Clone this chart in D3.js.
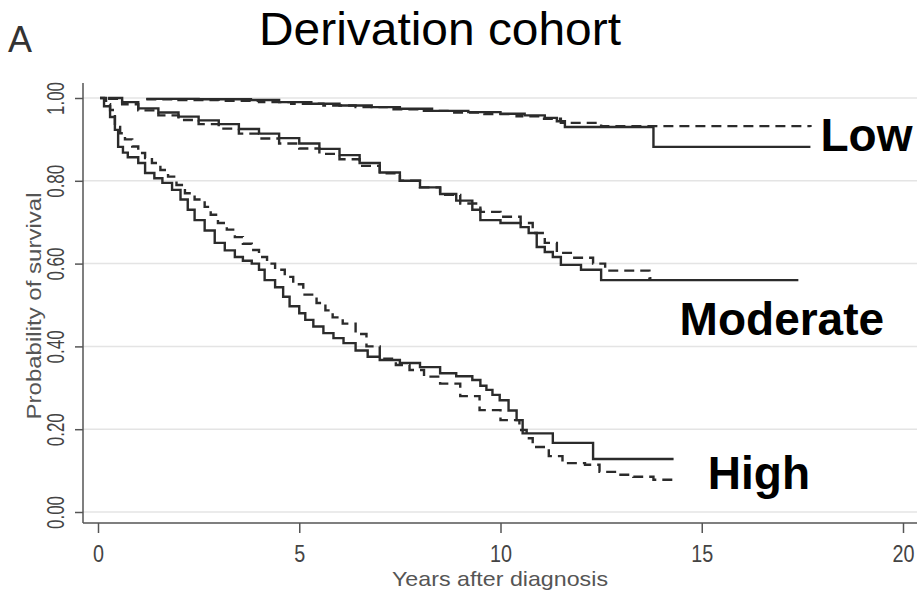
<!DOCTYPE html>
<html>
<head>
<meta charset="utf-8">
<script src="https://cdn.jsdelivr.net/npm/d3@7"></script>
<style>
  html, body { margin: 0; padding: 0; background: #fff; }
  svg { display: block; font-family: "Liberation Sans", Arial, Helvetica, sans-serif; }
</style>
</head>
<body>
<svg id="chart" width="921" height="591"></svg>
<script>
// Kaplan-Meier survival estimates by risk group (solid = observed, dashed = second estimate)
const lowSolidT  = [1.2, 2.5, 3.8, 4.5, 5.3, 6.0, 6.8, 7.5, 8.3, 9.2, 10.0, 10.6, 11.1, 11.4, 11.6, 13.8, 17.7];
const lowSolidS  = [0.998, 0.997, 0.995, 0.990, 0.986, 0.982, 0.978, 0.974, 0.969, 0.966, 0.962, 0.958, 0.952, 0.944, 0.930, 0.882, 0.882];
const lowDashT   = [1.2, 2.0, 3.0, 4.0, 4.8, 5.6, 6.4, 7.2, 8.0, 8.8, 9.6, 10.4, 11.0, 11.5, 12.5, 17.7];
const lowDashS   = [0.997, 0.995, 0.993, 0.990, 0.986, 0.982, 0.978, 0.973, 0.969, 0.965, 0.961, 0.956, 0.950, 0.940, 0.932, 0.930];

const modSolidT  = [0.25, 0.6, 1.0, 1.5, 2.0, 2.5, 3.0, 3.5, 4.0, 4.5, 5.0, 5.5, 6.0, 6.5, 7.0, 7.5, 8.0, 8.5, 8.9, 9.3, 9.5, 10.0, 10.5, 10.7, 10.9, 11.1, 11.3, 11.5, 12.0, 12.5, 17.4];
const modSolidS  = [1.0, 0.99, 0.975, 0.965, 0.955, 0.946, 0.937, 0.925, 0.914, 0.903, 0.89, 0.877, 0.862, 0.843, 0.82, 0.80, 0.784, 0.768, 0.752, 0.73, 0.705, 0.698, 0.688, 0.674, 0.64, 0.628, 0.616, 0.597, 0.585, 0.56, 0.56];
const modDashT   = [0.25, 0.6, 1.0, 1.5, 2.0, 2.5, 3.0, 3.5, 4.0, 4.5, 5.0, 5.5, 6.0, 6.5, 7.0, 7.5, 8.0, 8.5, 9.0, 9.5, 10.0, 10.5, 10.8, 11.1, 11.4, 11.8, 12.3, 12.6, 13.7, 13.75];
const modDashS   = [0.998, 0.985, 0.97, 0.958, 0.947, 0.937, 0.926, 0.914, 0.902, 0.89, 0.878, 0.865, 0.852, 0.836, 0.818, 0.80, 0.784, 0.766, 0.745, 0.725, 0.713, 0.698, 0.674, 0.65, 0.626, 0.614, 0.60, 0.583, 0.565, 0.565];

const highSolidT = [0.05, 0.15, 0.3, 0.42, 0.5, 0.62, 0.74, 1.0, 1.17, 1.4, 1.6, 1.84, 2.05, 2.23, 2.4, 2.65, 2.9, 3.15, 3.4, 3.6, 3.82, 4.0, 4.14, 4.4, 4.6, 4.76, 5.0, 5.15, 5.35, 5.6, 5.85, 6.1, 6.4, 6.7, 7.0, 7.5, 8.0, 8.5, 8.9, 9.3, 9.5, 9.65, 9.8, 9.98, 10.2, 10.4, 10.55, 11.3, 12.3, 14.3];
const highSolidS = [1.0, 0.98, 0.954, 0.923, 0.882, 0.868, 0.857, 0.843, 0.819, 0.806, 0.795, 0.778, 0.755, 0.73, 0.705, 0.68, 0.65, 0.632, 0.616, 0.607, 0.6, 0.585, 0.56, 0.543, 0.52, 0.497, 0.48, 0.464, 0.448, 0.432, 0.42, 0.408, 0.39, 0.375, 0.367, 0.36, 0.35, 0.335, 0.328, 0.319, 0.305, 0.295, 0.283, 0.27, 0.245, 0.222, 0.19, 0.167, 0.128, 0.128];
const highDashT  = [0.05, 0.2, 0.3, 0.42, 0.55, 0.67, 0.85, 1.0, 1.17, 1.34, 1.55, 1.74, 1.95, 2.16, 2.4, 2.65, 2.8, 2.98, 3.2, 3.4, 3.6, 3.82, 4.0, 4.2, 4.4, 4.64, 4.85, 5.1, 5.43, 5.65, 5.83, 6.08, 6.4, 6.67, 7.0, 7.4, 7.74, 8.1, 8.5, 9.0, 9.48, 10.0, 10.47, 10.65, 10.8, 11.2, 11.54, 12.1, 12.46, 12.9, 13.3, 13.8, 14.3];
const highDashS  = [1.0, 0.985, 0.971, 0.93, 0.915, 0.9, 0.883, 0.867, 0.855, 0.843, 0.826, 0.81, 0.79, 0.77, 0.755, 0.737, 0.718, 0.698, 0.682, 0.664, 0.648, 0.633, 0.616, 0.6, 0.585, 0.568, 0.55, 0.525, 0.505, 0.487, 0.47, 0.455, 0.43, 0.40, 0.37, 0.355, 0.343, 0.327, 0.31, 0.28, 0.246, 0.222, 0.198, 0.178, 0.157, 0.135, 0.118, 0.114, 0.097, 0.09, 0.085, 0.078, 0.072];

const xTicks = [0, 5, 10, 15, 20];
const yTicks = [0, 0.2, 0.4, 0.6, 0.8, 1.0];
const groupLabels = ["Low", "Moderate", "High"];
const groupLabelT = [17.95, 14.45, 15.15];
const groupLabelS = [0.873, 0.427, 0.055];

const svg = d3.select("#chart");
const x = d3.scaleLinear().domain([0, 20]).range([98, 903]);
const y = d3.scaleLinear().domain([0, 1]).range([512, 98]);

const axisColor = "#555";
const axisFont = "'Liberation Sans', Arial, sans-serif";

// horizontal grid
svg.append("g").selectAll("line").data(yTicks).join("line")
  .attr("x1", 83).attr("x2", 917)
  .attr("y1", d => y(d)).attr("y2", d => y(d))
  .attr("stroke", "#e4e4e4").attr("stroke-width", 1.5);

// y axis (labels rotated, condensed)
const yAxis = svg.append("g").attr("transform", "translate(83,0)")
  .call(d3.axisLeft(y).tickValues(yTicks).tickSize(8).tickFormat(d3.format(".2f")));
yAxis.select(".domain").attr("d", `M0,83V523`).attr("stroke", axisColor).attr("stroke-width", 1.5);
yAxis.selectAll(".tick line").attr("stroke", axisColor).attr("stroke-width", 1.5);
yAxis.selectAll(".tick text")
  .attr("x", 0).attr("dy", 0).attr("y", 0)
  .attr("transform", "translate(-19,0) rotate(-90)")
  .attr("text-anchor", "middle")
  .attr("font-size", 23).attr("fill", "#444")
  .attr("textLength", 33).attr("lengthAdjust", "spacingAndGlyphs")
  .style("font-family", axisFont);

// x axis
const xAxis = svg.append("g").attr("transform", "translate(0,523)")
  .call(d3.axisBottom(x).tickValues(xTicks).tickSize(10).tickFormat(d3.format("d")));
xAxis.select(".domain").attr("d", `M83,0H917`).attr("stroke", axisColor).attr("stroke-width", 1.5);
xAxis.selectAll(".tick line").attr("stroke", axisColor).attr("stroke-width", 1.5);
xAxis.selectAll(".tick text")
  .attr("y", 39).attr("dy", 0)
  .attr("font-size", 24).attr("fill", "#444")
  .attr("textLength", d => String(d).length * 11).attr("lengthAdjust", "spacingAndGlyphs")
  .style("font-family", axisFont);

// axis titles
svg.append("text")
  .attr("transform", "translate(41,306) rotate(-90)")
  .attr("text-anchor", "middle").attr("font-size", 20).attr("fill", "#555")
  .attr("textLength", 227).attr("lengthAdjust", "spacingAndGlyphs")
  .text("Probability of survival");
svg.append("text")
  .attr("x", 500).attr("y", 586)
  .attr("text-anchor", "middle").attr("font-size", 21).attr("fill", "#555")
  .attr("textLength", 216).attr("lengthAdjust", "spacingAndGlyphs")
  .text("Years after diagnosis");

// curves
const line = d3.line().x(d => x(d[0])).y(d => y(d[1])).curve(d3.curveStepAfter);
const series = [
  [lowSolidT, lowSolidS, false], [lowDashT, lowDashS, true],
  [modSolidT, modSolidS, false], [modDashT, modDashS, true],
  [highSolidT, highSolidS, false], [highDashT, highDashS, true]
];
series.forEach(([t, s, dashed]) => {
  svg.append("path")
    .datum(d3.zip(t, s))
    .attr("d", line)
    .attr("fill", "none")
    .attr("stroke", "#2b2b2b")
    .attr("stroke-width", 2.4)
    .attr("stroke-dasharray", dashed ? "10,6" : null);
});

// group labels
svg.append("g").selectAll("text").data(groupLabels).join("text")
  .attr("x", (d, i) => x(groupLabelT[i]))
  .attr("y", (d, i) => y(groupLabelS[i]))
  .attr("font-size", 46).attr("font-weight", "bold").attr("fill", "#000")
  .text(d => d);

// titles
svg.append("text")
  .attr("x", 440).attr("y", 45)
  .attr("text-anchor", "middle").attr("font-size", 46).attr("fill", "#000")
  .attr("textLength", 362).attr("lengthAdjust", "spacingAndGlyphs")
  .text("Derivation cohort");
svg.append("text")
  .attr("x", 8).attr("y", 52)
  .attr("font-size", 36).attr("fill", "#333")
  .text("A");
</script>
</body>
</html>
